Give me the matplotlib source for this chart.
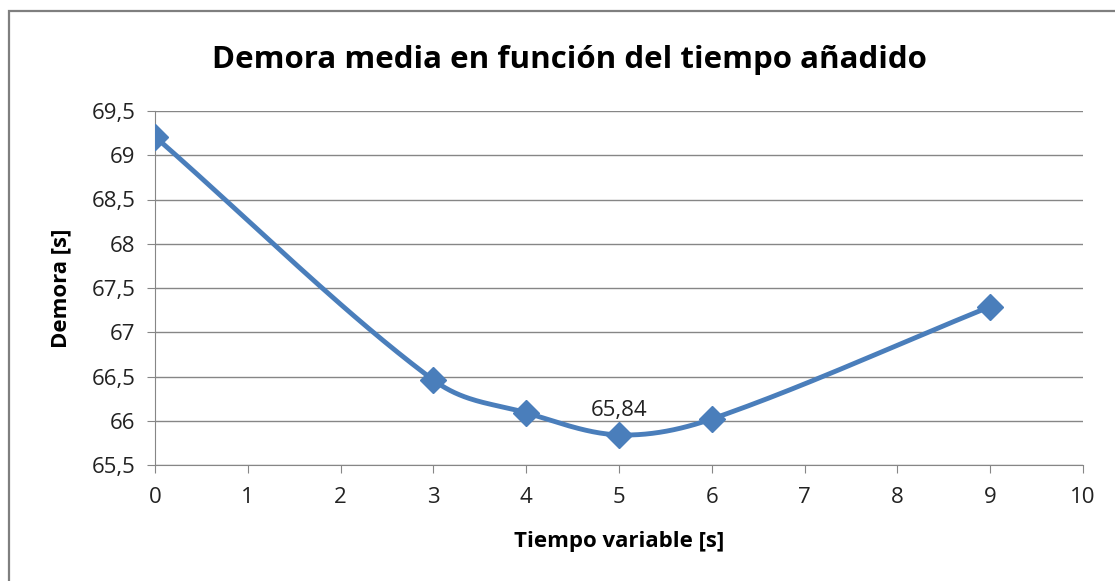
import numpy as np
import matplotlib.pyplot as plt
from matplotlib.patches import Rectangle
from matplotlib.ticker import FuncFormatter

# Datos del gráfico
tiempo = [0, 3, 4, 5, 6, 9]
demora = [69.21, 66.46, 66.09, 65.84, 66.02, 67.29]
etiqueta_idx = 3  # punto con etiqueta (65,84)

titulo = 'Demora media en función del tiempo añadido'
xlabel = 'Tiempo variable [s]'
ylabel = 'Demora [s]'

color = '#4A7EBB'
gris = '#868686'
plt.rcParams['font.family'] = ['Open Sans', 'DejaVu Sans']


def suavizar(x, y, n=40):
    # curva suavizada (Hermite cúbico, pendientes por diferencias centradas)
    x = np.asarray(x, float)
    y = np.asarray(y, float)
    m = np.empty_like(y)
    m[1:-1] = (y[2:] - y[:-2]) / (x[2:] - x[:-2])
    m[0] = (y[1] - y[0]) / (x[1] - x[0])
    m[-1] = (y[-1] - y[-2]) / (x[-1] - x[-2])
    xs, ys = [], []
    t = np.linspace(0, 1, n)
    for i in range(len(x) - 1):
        h = x[i + 1] - x[i]
        h00 = 2 * t ** 3 - 3 * t ** 2 + 1
        h10 = t ** 3 - 2 * t ** 2 + t
        h01 = -2 * t ** 3 + 3 * t ** 2
        h11 = t ** 3 - t ** 2
        xs.extend(x[i] + t * h)
        ys.extend(h00 * y[i] + h10 * h * m[i] + h01 * y[i + 1] + h11 * h * m[i + 1])
    return xs, ys


fig = plt.figure(figsize=(11.15, 5.81), dpi=100)
ax = fig.add_axes([155 / 1115, 1 - 465 / 581, 928 / 1115, 354 / 581])

# marco exterior
fig.patches.append(Rectangle((9 / 1115, -0.1), 1.2, 1 - 11 / 581 + 0.1,
                             transform=fig.transFigure, fill=False,
                             edgecolor='#7f7f7f', linewidth=1.6))

xs, ys = suavizar(tiempo, demora)
ax.plot(xs, ys, color=color, linewidth=3.5, solid_capstyle='round', zorder=3)
ax.plot(tiempo, demora, linestyle='none', marker='D', markersize=13,
        color=color, zorder=4)
ax.annotate(f'{demora[etiqueta_idx]:.2f}'.replace('.', ','),
            (tiempo[etiqueta_idx], demora[etiqueta_idx]),
            xytext=(0, 10), textcoords='offset points', ha='center',
            va='bottom', fontsize=16, color='#222222')

ax.set_xlim(0, 10)
ax.set_ylim(65.5, 69.5)
ax.set_xticks(range(0, 11))
ax.set_yticks(np.arange(65.5, 69.51, 0.5))
ax.yaxis.set_major_formatter(FuncFormatter(lambda v, p: f'{v:g}'.replace('.', ',')))
ax.grid(axis='y', color=gris, linewidth=1)
ax.set_axisbelow(True)
for s in ['top', 'right']:
    ax.spines[s].set_visible(False)
for s in ['left', 'bottom']:
    ax.spines[s].set_color(gris)
ax.tick_params(axis='both', colors=gris, labelcolor='#222222', labelsize=16,
               length=6, direction='out')
ax.tick_params(axis='y', pad=8)
ax.tick_params(axis='x', pad=10)

ax.set_xlabel(xlabel, fontsize=16, fontweight='bold', va='center')
ax.set_ylabel(ylabel, fontsize=16, fontweight='bold', va='center')
ax.xaxis.set_label_coords(0.5, (465 - 541) / 354)
ax.yaxis.set_label_coords((61 - 155) / 928, 0.5)
fig.text(569 / 1115, 1 - 60 / 581, titulo, ha='center', va='center',
         fontsize=22.5, fontweight='bold')

fig.savefig('out.png', dpi=100)
